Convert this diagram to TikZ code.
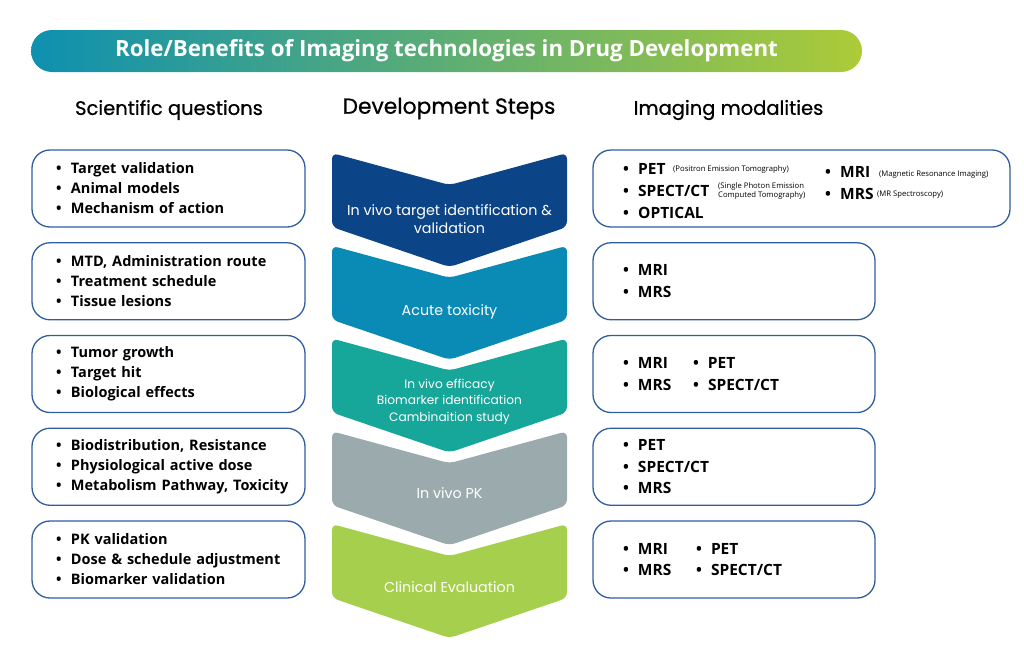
\documentclass[tikz,border=0pt]{standalone}
\usepackage{fontspec}
\setmainfont{Open Sans}
\newfontfamily\poppins{Poppins}
\newfontfamily\poppinstebal{Poppins}[FakeBold=0.7]
\usepackage{tikz}
\usetikzlibrary{positioning}
\definecolor{garis}{HTML}{2F5E9E}
\definecolor{judulkiri}{HTML}{0E90B0}
\definecolor{judulkanan}{HTML}{ACCB38}
\definecolor{langkah1}{HTML}{0B4587}
\definecolor{langkah2}{HTML}{0A8BB5}
\definecolor{langkah3}{HTML}{17A69A}
\definecolor{langkah4}{HTML}{9BABAD}
\definecolor{langkah5}{HTML}{A7CF4E}
\tikzstyle{kotak} = [rectangle, rounded corners=18pt, draw=garis, line width=1.3pt, minimum height=77pt, text width=225pt, inner xsep=24pt, align=left, font=\fontsize{14.5}{20}\selectfont\bfseries]
\tikzstyle{modkotak} = [kotak, text width=222pt, inner xsep=30pt, font=\fontsize{15.5}{21.5}\selectfont\bfseries]
\tikzstyle{kepala} = [font=\poppinstebal\fontsize{19.5}{22}\selectfont]
\tikzstyle{teks-langkah} = [text=white, align=center, font=\poppins\fontsize{14.3}{18}\selectfont]
\tikzstyle{moda} = [anchor=base west, inner sep=0pt, font=\fontsize{15.5}{18}\selectfont\bfseries]
\tikzstyle{kecil} = [anchor=base west, inner sep=0pt, align=left, font=\fontsize{7.7}{8.7}\selectfont]
\newcommand{\butir}[1]{\mbox{\makebox[15pt][l]{\textbullet}#1}}

\begin{document}
\begin{tikzpicture}[x=1pt, y=-1pt, node distance=92.75pt]
    \useasboundingbox (0,0) rectangle (1024,657);

    % judul
    \shade [left color=judulkiri, right color=judulkanan, rounded corners=21pt] (31,30) rectangle (862,72);
    \node (judul) at (446.5,51) [text=white, font=\fontsize{22.3}{24}\selectfont\bfseries] {Role/Benefits of Imaging technologies in Drug Development};

    \node (kepala-tanya) at (169,110) [kepala] {Scientific questions};
    \node (kepala-langkah) at (449,108.5) [kepala, font=\poppinstebal\fontsize{21.8}{24}\selectfont] {Development Steps};
    \node (kepala-moda) at (728.5,110) [kepala] {Imaging modalities};

    % chevron
    \foreach \y/\warna in {153/langkah1, 245.75/langkah2, 338.5/langkah3, 431.25/langkah4, 524/langkah5}
        \fill [\warna, rounded corners=6pt] (332,\y) -- (449.5,\y+32) -- (567,\y) -- (567,\y+74) -- (449.5,\y+114) -- (332,\y+74) -- cycle;

    \node (langkah-1) at (449.5,219) [teks-langkah] {In vivo target identification \&\\validation};
    \node (langkah-2) at (449.5,312) [teks-langkah] {Acute toxicity};
    \node (langkah-3) at (449.5,401.5) [teks-langkah, font=\poppins\fontsize{12.2}{16.5}\selectfont] {In vivo efficacy\\Biomarker identification\\Cambinaition study};
    \node (langkah-4) at (449.5,493) [teks-langkah] {In vivo PK};
    \node (langkah-5) at (449.5,587) [teks-langkah] {Clinical Evaluation};

    % pertanyaan ilmiah
    \node (tanya-1) at (168.5,188.5) [kotak] {\butir{Target validation}\\\butir{Animal models}\\\butir{Mechanism of action}};
    \node (tanya-2) [kotak, below of=tanya-1] {\butir{MTD, Administration route}\\\butir{Treatment schedule}\\\butir{Tissue lesions}};
    \node (tanya-3) [kotak, below of=tanya-2] {\butir{Tumor growth}\\\butir{Target hit}\\\butir{Biological effects}};
    \node (tanya-4) [kotak, below of=tanya-3] {\butir{Biodistribution, Resistance}\\\butir{Physiological active dose}\\\butir{Metabolism Pathway, Toxicity}};
    \node (tanya-5) [kotak, below of=tanya-4] {\butir{PK validation}\\\butir{Dose \& schedule adjustment}\\\butir{Biomarker validation}};

    % modalitas
    \node (moda-1) at (801.5,188.5) [kotak, text width=369pt] {};
    \node (moda-1-pet) at (623,174) [moda] {\butir{PET}};
    \node (moda-1-spect) at (623,196) [moda] {\butir{SPECT/CT}};
    \node (moda-1-optical) at (623,218) [moda] {\butir{OPTICAL}};
    \node (moda-1-mri) at (825,177) [moda] {\butir{MRI}};
    \node (moda-1-mrs) at (825,199) [moda] {\butir{MRS}};
    \node (ket-pet) at (673,171.5) [kecil] {(Positron Emission Tomography)};
    \node (ket-spect) at (718,197) [kecil] {(Single Photon Emission\\Computed Tomography)};
    \node (ket-mri) at (879,176.5) [kecil] {(Magnetic Resonance Imaging)};
    \node (ket-mrs) at (877,196) [kecil] {(MR Spectroscopy)};

    \node (moda-2) at (734,281.25) [modkotak] {\butir{MRI}\\\butir{MRS}};
    \node (moda-3) [modkotak, below of=moda-2] {\makebox[70pt][l]{\butir{MRI}}\butir{PET}\\\makebox[70pt][l]{\butir{MRS}}\butir{SPECT/CT}};
    \node (moda-4) [modkotak, below of=moda-3] {\butir{PET}\\\butir{SPECT/CT}\\\butir{MRS}};
    \node (moda-5) [modkotak, below of=moda-4] {\makebox[73pt][l]{\butir{MRI}}\butir{PET}\\\makebox[73pt][l]{\butir{MRS}}\butir{SPECT/CT}};
\end{tikzpicture}
\end{document}
